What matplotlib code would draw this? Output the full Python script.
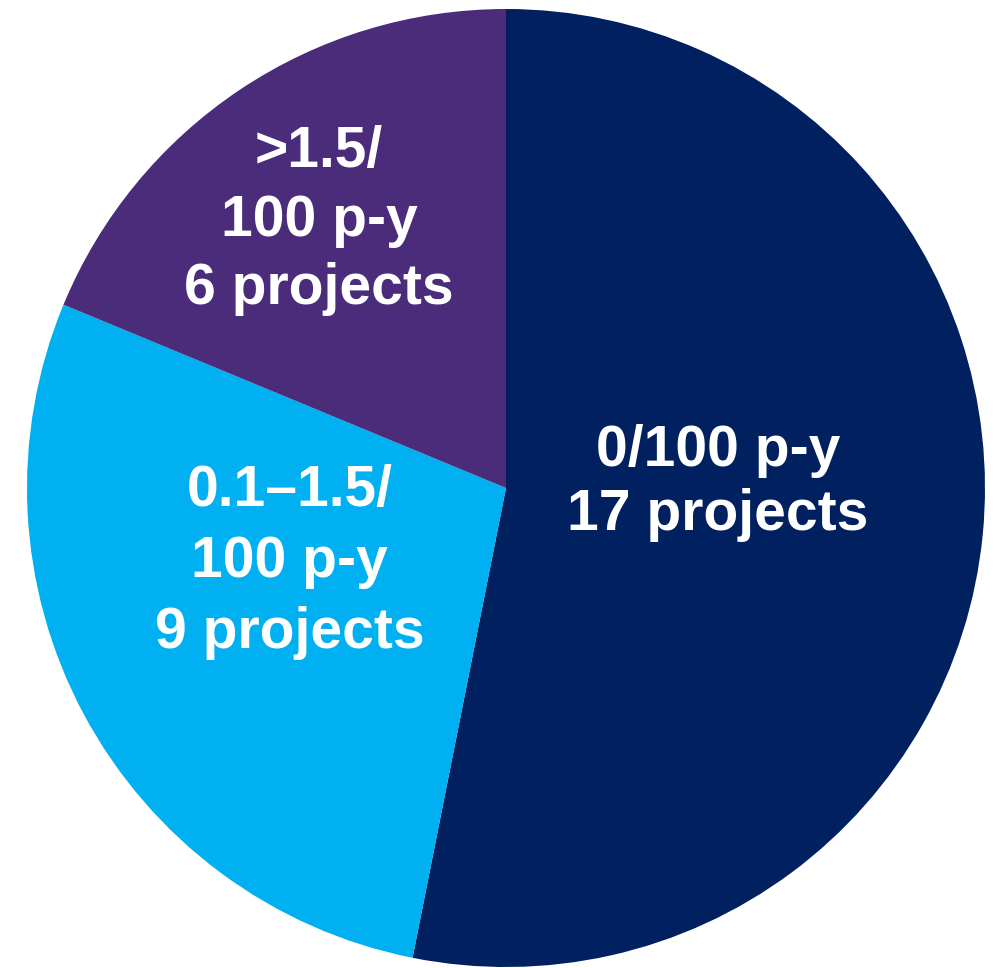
import matplotlib
matplotlib.use("Agg")
import matplotlib.pyplot as plt

# Incidence rate groups and the number of projects in each
rate_groups = ["0/100 p-y", "0.1\u20131.5/\n100 p-y", ">1.5/\n100 p-y"]
project_counts = [17, 9, 6]
slice_colors = ["#00205f", "#00b0f0", "#4a2c7a"]

# label anchor (in pie units) and line spacing for each slice
label_xy = [(0.442, 0.010), (-0.452, -0.154), (-0.390, 0.558)]
label_spacing = [1.23, 1.40, 1.34]

W, H = 995, 968
cx, cy, r = 506, 488, 479

fig = plt.figure(figsize=(W / 100, H / 100), dpi=100)
ax = fig.add_axes([(cx - r) / W, (H - cy - r) / H, 2 * r / W, 2 * r / H])

ax.pie(project_counts, colors=slice_colors, startangle=90, counterclock=False,
       radius=1, wedgeprops=dict(linewidth=0))

for group, n, (x, y), ls in zip(rate_groups, project_counts, label_xy, label_spacing):
    ax.text(x, y, f"{group}\n{n} projects", ha="center", va="center",
            color="white", fontsize=41, fontweight="bold",
            family="Liberation Sans", linespacing=ls)

ax.set_xlim(-1, 1)
ax.set_ylim(-1, 1)
ax.set_aspect("auto")
ax.axis("off")

fig.savefig("out.png", dpi=100, facecolor="white")
